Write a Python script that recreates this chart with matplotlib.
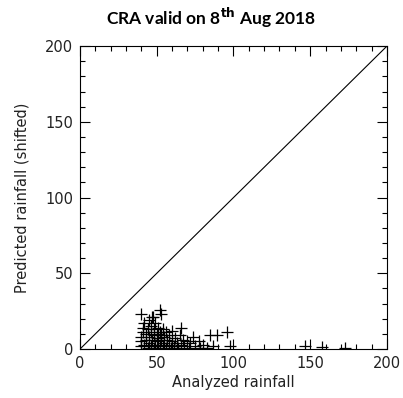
import matplotlib
matplotlib.use("Agg")
import matplotlib.pyplot as plt
from matplotlib.ticker import MultipleLocator

# Analyzed vs predicted (shifted) rainfall
analyzed = [40, 40, 40, 41, 41, 42, 42, 43, 43, 44, 44, 45, 45, 45, 46, 46, 46,
            47, 47, 48, 48, 48, 49, 49, 50, 50, 51, 51, 51, 52, 52, 53, 53, 54,
            54, 55, 55, 56, 56, 57, 58, 58, 59, 60, 60, 61, 62, 63, 64, 65, 66,
            67, 68, 70, 71, 72, 75, 78, 80, 83, 87,
            52, 40, 47.5, 53, 66, 96, 85, 89, 73.5, 77.5, 98, 146.5, 157.5, 172.5]
predicted = [2, 5, 8, 11, 14, 3, 17, 6, 10, 1, 13, 4, 8, 19, 2, 11, 15,
             6, 21, 1, 9, 13, 3, 17, 5, 10, 1, 7, 14, 3, 11, 6, 9, 2,
             13, 4, 8, 1, 11, 6, 3, 9, 1, 5, 12, 2, 7, 4, 1, 9, 3,
             6, 2, 5, 1, 4, 2, 1, 3, 1, 2,
             26, 23, 21, 23, 14, 11, 9, 9, 8, 5, 2, 2, 1.5, 1]

fig = plt.figure(figsize=(4.03, 3.98), dpi=100)
ax = fig.add_axes([0.1985, 0.123, 0.7615, 0.761])

ax.plot([0, 200], [0, 200], color="black", linewidth=0.8)
ax.plot(analyzed, predicted, linestyle="none", marker="+", markersize=9,
        markeredgewidth=0.9, color="black")

ax.set_xlim(0, 200)
ax.set_ylim(0, 200)
for a in (ax.xaxis, ax.yaxis):
    a.set_major_locator(MultipleLocator(50))
    a.set_minor_locator(MultipleLocator(10))
ax.tick_params(which="both", direction="in", top=True, right=True,
               labelsize=10.5, width=0.8, pad=5, labelcolor="#222222")
ax.tick_params(which="major", length=7)
ax.tick_params(which="minor", length=3.5)
for s in ax.spines.values():
    s.set_linewidth(0.8)

ax.set_xlabel("Analyzed rainfall", fontsize=10.5, labelpad=3, color="#222222")
ax.set_ylabel("Predicted rainfall (shifted)", fontsize=10.5, labelpad=11,
              color="#222222")

fig.text(0.524, 0.955, r"CRA valid on 8$^{\mathbf{th}}$ Aug 2018",
         ha="center", va="center", fontsize=12.5, fontweight="bold",
         family="Lato")

plt.savefig("out.png", dpi=100)
